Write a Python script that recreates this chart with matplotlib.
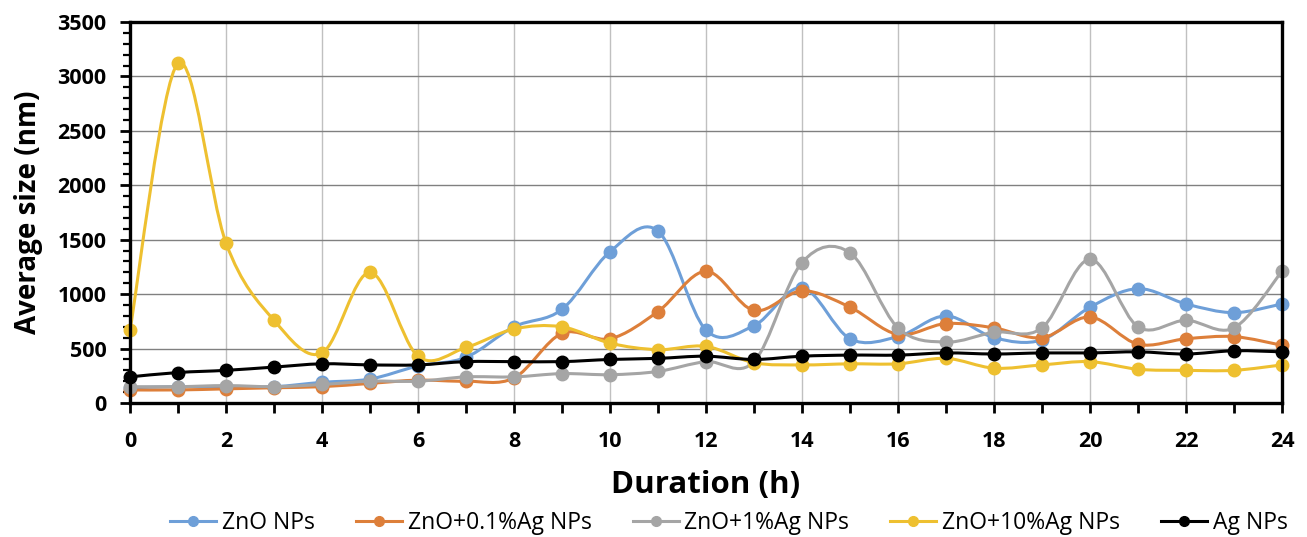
import numpy as np
import matplotlib
matplotlib.use("Agg")
import matplotlib.pyplot as plt
from matplotlib.path import Path
from matplotlib.patches import PathPatch
from matplotlib.lines import Line2D
from matplotlib.ticker import MultipleLocator

hours = list(range(25))
zno = [140, 150, 150, 150, 190, 220, 340, 420, 700, 860, 1390, 1580, 670, 710, 1060, 590,
       610, 800, 600, 580, 880, 1050, 910, 830, 910]
zno_01ag = [120, 120, 130, 140, 150, 180, 210, 200, 230, 640, 590, 840, 1210, 850, 1030, 880,
            630, 730, 690, 600, 790, 540, 590, 610, 530]
zno_1ag = [150, 150, 160, 150, 170, 200, 200, 240, 240, 270, 260, 290, 380, 380, 1290, 1380,
           690, 560, 650, 690, 1320, 700, 760, 690, 1210]
zno_10ag = [670, 3120, 1470, 760, 460, 1200, 430, 510, 680, 700, 550, 490, 520, 370, 350, 360,
            360, 410, 320, 350, 380, 310, 300, 300, 350]
ag = [240, 280, 300, 330, 360, 350, 350, 380, 380, 380, 400, 410, 430, 400, 430, 440,
      440, 460, 450, 460, 460, 470, 450, 480, 470]

labels = ["ZnO NPs", "ZnO+0.1%Ag NPs", "ZnO+1%Ag NPs", "ZnO+10%Ag NPs", "Ag NPs"]
series = [zno, zno_01ag, zno_1ag, zno_10ag, ag]
colors = ["#6E9FD8", "#DD7F3A", "#A5A5A5", "#EEC030", "#000000"]

FONT = "Open Sans"
plt.rcParams['font.family'] = [FONT, 'DejaVu Sans']

fig = plt.figure(figsize=(13.07, 5.37), dpi=100)
ax = fig.add_axes([130/1307, 1-403/537, (1282-130)/1307, (403-22)/537])


def smooth_path(x, y):
    x = np.asarray(x, float)
    y = np.asarray(y, float)
    n = len(x)
    verts = [(x[0], y[0])]
    codes = [Path.MOVETO]
    for i in range(n - 1):
        i0 = max(i - 1, 0)
        i3 = min(i + 2, n - 1)
        c1 = (x[i] + (x[i+1] - x[i0]) / 6, y[i] + (y[i+1] - y[i0]) / 6)
        c2 = (x[i+1] - (x[i3] - x[i]) / 6, y[i+1] - (y[i3] - y[i]) / 6)
        verts += [c1, c2, (x[i+1], y[i+1])]
        codes += [Path.CURVE4] * 3
    return Path(verts, codes)


handles = []
for k, (vals, col, lab) in enumerate(zip(series, colors, labels)):
    p = smooth_path(hours, vals)
    ax.add_patch(PathPatch(p, facecolor='none', edgecolor=col, lw=2.2, zorder=3 + k * 2,
                           capstyle='round', joinstyle='round'))
    ax.plot(hours, vals, linestyle='none', marker='o', markersize=9, color=col,
            zorder=4 + k * 2, clip_on=False)
    handles.append(Line2D([0], [0], color=col, lw=2.2, marker='o', markersize=7))

ax.set_xlim(0, 24)
ax.set_ylim(0, 3500)
ax.xaxis.set_major_locator(MultipleLocator(2))
ax.xaxis.set_minor_locator(MultipleLocator(1))
ax.yaxis.set_major_locator(MultipleLocator(500))
ax.yaxis.set_minor_locator(MultipleLocator(100))

ax.grid(True, which='major', axis='y', color='#808080', lw=1.0, zorder=1)
ax.grid(True, which='major', axis='x', color='#C0C0C0', lw=1.0, zorder=1)
for s in ax.spines.values():
    s.set_linewidth(2.4)
    s.set_color('black')
    s.set_zorder(20)

ax.tick_params(axis='both', which='major', direction='out', length=7, width=2.0,
               labelsize=15.5)
ax.tick_params(axis='y', which='major', pad=10)
ax.tick_params(axis='x', which='major', pad=13)
ax.tick_params(axis='both', which='minor', direction='out', length=5, width=1.6)
ax.tick_params(axis='x', which='minor', length=7, width=2.0)
for t in ax.get_xticklabels() + ax.get_yticklabels():
    t.set_fontweight('bold')

ax.set_xlabel("Duration (h)", fontsize=22.5, fontweight='bold', labelpad=13)
ax.set_ylabel("Average size (nm)", fontsize=20, fontweight='bold', labelpad=10)

fig.legend(handles, labels, loc='center', bbox_to_anchor=(729/1307, 1-523/537), ncol=5,
           frameon=False, fontsize=16.5, handlelength=2.0, columnspacing=1.8,
           handletextpad=0.25)

fig.savefig("out.png", dpi=100)
